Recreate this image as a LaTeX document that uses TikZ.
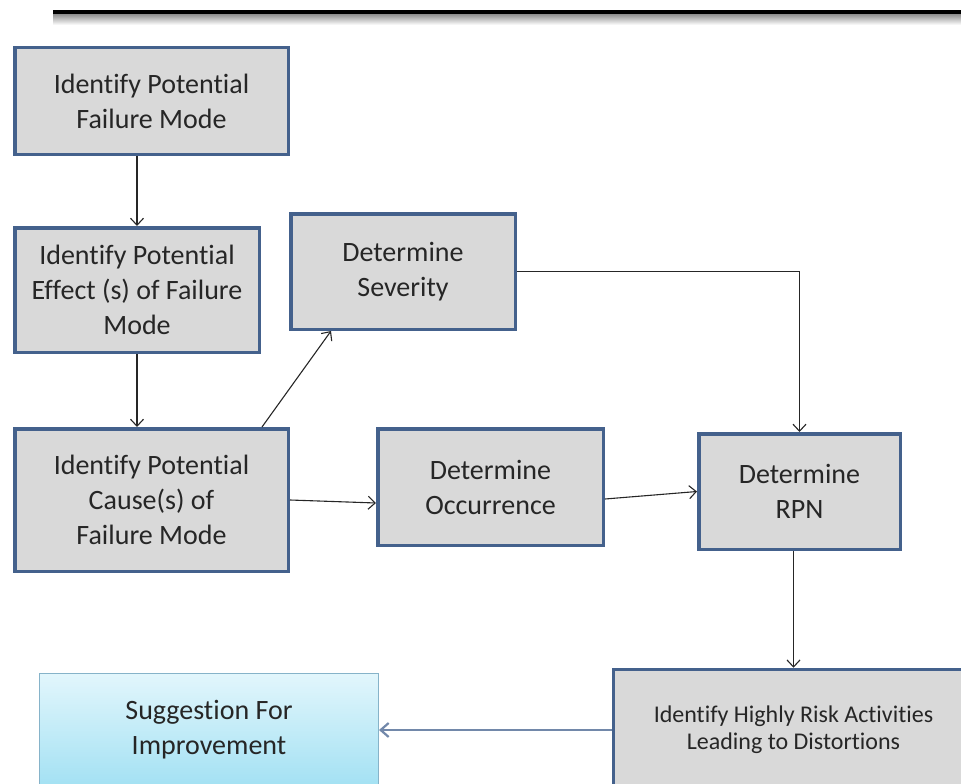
\documentclass[tikz,border=0pt]{standalone}
\usepackage{fontspec}
\setmainfont{Carlito}[Ligatures=NoCommon]
\usepackage{tikz}
\usetikzlibrary{arrows.meta,positioning,shadings}
\usepackage{xcolor}
\definecolor{boxfill}{HTML}{D9D9D9}
\definecolor{boxline}{HTML}{44618C}
\definecolor{suggline}{HTML}{86B3C9}
\definecolor{suggtop}{HTML}{E2F6FC}
\definecolor{suggbot}{HTML}{A3E1F3}
\definecolor{backarrow}{HTML}{7288AA}

\begin{document}
\begin{tikzpicture}[x=1pt,y=-1pt,
		stepbox/.style={draw=boxline,line width=3.5pt,fill=boxfill,align=center,inner sep=0pt,
			text=black!85,font=\fontsize{28}{35}\selectfont},
		arr/.style={-{Straight Barb[length=7pt,width=13pt]},line width=1.1pt,black!85}]
				\useasboundingbox (0,0) rectangle (961,784);
				\clip (0,0) rectangle (961,784);
				% rule on top
				\shade[top color=gray!80,bottom color=white] (53,15) rectangle (961,25);
				\draw[line width=4pt] (53,12) -- (961,12);
				% boxes
				\node[stepbox,minimum width=273.5pt,minimum height=106.5pt] (fail) at (151.5,101) {Identify Potential\\Failure Mode};
				\node[stepbox,minimum width=244.5pt,minimum height=124.5pt] (effect) at (137,290) {Identify Potential\\Effect (s) of Failure\\Mode};
				\node[stepbox,minimum width=273.5pt,minimum height=142.5pt] (cause) at (151.5,500) {Identify Potential\\Cause(s) of\\Failure Mode};
				\node[stepbox,minimum width=224.5pt,minimum height=115.5pt] (sev) at (403,271.5) {Determine\\Severity};
				\node[stepbox,minimum width=225.5pt,minimum height=116.5pt] (occ) at (490.5,487) {Determine\\Occurrence};
				\node[stepbox,minimum width=201.5pt,minimum height=115.5pt] (rpn) at (799.5,491.5) {Determine\\RPN};
				\node[stepbox,minimum width=360pt,minimum height=121pt,font=\fontsize{24}{27}\selectfont] (risk) at (793.5,730) {Identify Highly Risk Activities\\Leading to Distortions};
				\node[draw=suggline,line width=1pt,top color=suggtop,bottom color=suggbot,align=center,
					text=black!85,font=\fontsize{28}{35}\selectfont,minimum width=339pt,minimum height=113pt] (sugg) at (209,730) {Suggestion For\\Improvement};
				% arrows
				\draw[arr] (fail.south -| effect.north) -- (effect.north);
				\draw[arr] (effect.south) -- (effect.south |- cause.north);
				\draw[arr] ([xshift=-28pt]cause.north east) -- ([xshift=42pt]sev.south west);
				\draw[arr] (cause.east) -- ([yshift=-16pt]occ.west);
				\draw[arr] ([yshift=-12pt]occ.east) -- (rpn.west);
				\draw[arr] (sev.east) -| (rpn.north);
				\draw[arr] (rpn.south -| risk.north) -- (risk.north);
				\draw[-{Straight Barb[length=8pt,width=14pt]},backarrow,line width=2.2pt] (risk.west) -- (risk.west -| sugg.east);
			\end{tikzpicture}
\end{document}
